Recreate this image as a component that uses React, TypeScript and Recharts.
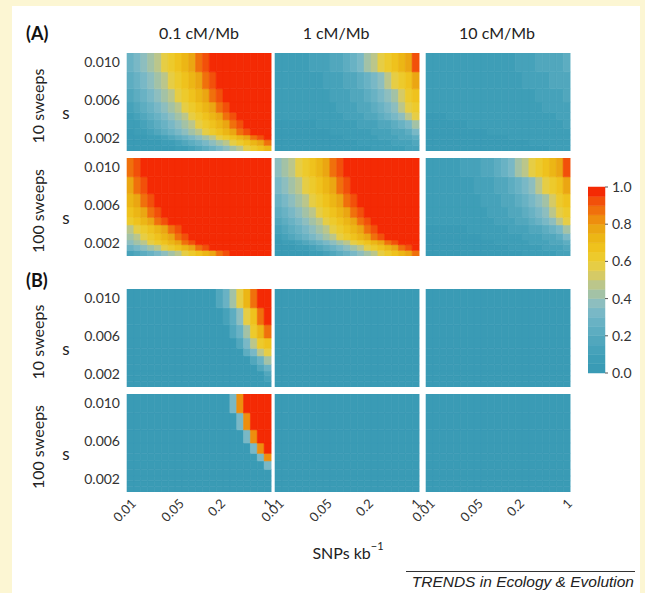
import React from 'react';
import { BarChart, Bar, XAxis, YAxis, Cell } from 'recharts';

// SNP density columns (log spaced, 10 per decade)
const snpLabels = ['0.01', '0.013', '0.016', '0.02', '0.025', '0.032', '0.04', '0.05', '0.063', '0.079', '0.1',
  '0.13', '0.16', '0.2', '0.25', '0.32', '0.4', '0.5', '0.63', '0.79', '1'];
const xTicks = ['0.01', '0.02', '0.05', '0.1', '0.2', '0.5', '1'];
const xLabelled = ['0.01', '0.05', '0.2', '1'];

// s row edges, top to bottom
const sEdges = [0.011, 0.009, 0.0072, 0.0058, 0.0047, 0.0039, 0.003, 0.0023, 0.0018, 0.0012, 0.0006];
const sTicks = [0.002, 0.006, 0.01];
const rowKeys = ['r0', 'r1', 'r2', 'r3', 'r4', 'r5', 'r6', 'r7', 'r8', 'r9'];

// colour bands 0.00..1.00 in steps of 0.05
const palette = ['#3a9bb5', '#3e9eb7', '#46a2ba', '#51a7bd', '#5dadc1', '#69b2c4', '#79b8c6', '#8dbebf', '#a3c2a6', '#bbc68b',
  '#d5ca66', '#e6cd45', '#edca2c', '#efc21d', '#ecb615', '#eba612', '#ee8e0e', '#f0700c', '#f2500a', '#f42a04'];
const scaleTicks = [0, 0.2, 0.4, 0.6, 0.8, 1];

// panel grids: one string per s row (top first), one char per SNP column, value = colour band (base 36)
const a10Low = ['56789bcdefhijjjjjjjjj', '456789bcdefhijjjjjjjj', '3456789bcdefhijjjjjjj', '23456789bcdefhijjjjjj',
  '123456789bcdefhijjjjj', '1123456789bcdefhijjjj', '01123456789bcdefhijjj', '0001123456789bcdefhij',
  '000001123456789bcdefh', '00000001123456789bcde'];
const a10Mid = ['111112223345689bcdefi', '11111112223345679bcdf', '111111112223345678acd', '1111111112223345679bc',
  '11111111112223345679b', '000000111111222334568', '000000001111112223346', '000000000011111222334',
  '000000000000111112223', '000000000000001111122'];
const a10High = ['111111111111122233334', '111111111111112222333', '111111111111111122223', '111111111111111112222',
  '000111111111111111122', '000000111111111111112', '000000000111111111111', '000000000000111111111',
  '000000000000000111111', '000000000000000000111'];
const a100Low = ['hijjjjjjjjjjjjjjjjjjj', 'fhijjjjjjjjjjjjjjjjjj', 'efhijjjjjjjjjjjjjjjjj', 'defhijjjjjjjjjjjjjjjj',
  'cdefhijjjjjjjjjjjjjjj', '9bcdefhijjjjjjjjjjjjj', '89bcdefhijjjjjjjjjjjj', '789bcdefhijjjjjjjjjjj',
  '56789bcdefhijjjjjjjjj', '23456789bcdefhijjjjjj'];
const a100Mid = ['789bcdefhijjjjjjjjjjj', '6789bcdefhijjjjjjjjjj', '56789bcdefhijjjjjjjjj', '456789bcdefhijjjjjjjj',
  '3456789bcdefhijjjjjjj', '23456789bcdefhijjjjjj', '123456789bcdefhijjjjj', '01123456789bcdefhijjj',
  '0001123456789bcdefhij', '000001123456789bcdefh'];
const a100High = ['111112223345689bcdefi', '11111112223345679bcdf', '111111112223345678acd', '1111111112223345679bc',
  '11111111112223345679b', '000000111111222334568', '000000001111112223346', '000000000011111222334',
  '000000000000111112223', '000000000000001111122'];
const b10Low = ['0000000000000358behjj', '00000000000000247bdhj', '000000000000000358ceh', '0000000000000000369cd',
  '00000000000000000469b', '000000000000000000358', '000000000000000000035', '000000000000000000003',
  '000000000000000000002', '000000000000000000000'];
const b10Mid = Array(10).fill('000000000000000000000');
const b10High = Array(10).fill('000000000000000000000');
const b100Low = ['0000000000000006gjjjj', '00000000000000006gjjj', '000000000000000006gjj', '0000000000000000006gj',
  '00000000000000000006g', '000000000000000000006', '000000000000000000000', '000000000000000000000',
  '000000000000000000000', '000000000000000000000'];
const b100Mid = Array(10).fill('000000000000000000000');
const b100High = Array(10).fill('000000000000000000000');

const FONT = 'Lato, "Open Sans", sans-serif';
const PW = 144;
const PH = 98;
const ML = 24;
const MR = 8;
const colX = [127, 275, 426];
const rowY = [53, 158, 289, 394];

const panelRows = [
  [a10Low, a10Mid, a10High],
  [a100Low, a100Mid, a100High],
  [b10Low, b10Mid, b10High],
  [b100Low, b100Mid, b100High],
];

const Panel = ({ grid, left, top, showY, showX }: { grid: string[]; left: number; top: number; showY: boolean; showX: boolean }) => {
  const yW = showY ? 60 : 0;
  const xH = showX ? 50 : 0;
  const data = snpLabels.map((x) => {
    const d: Record<string, number | string> = { x, base: sEdges[sEdges.length - 1] };
    rowKeys.forEach((k, r) => { d[k] = sEdges[r] - sEdges[r + 1]; });
    return d;
  });
  return (
    <div style={{ position: 'absolute', left: left - yW - ML, top }}>
      <BarChart width={PW + yW + ML + MR} height={PH + xH} data={data} margin={{ top: 0, right: MR, bottom: 0, left: ML }}
        barCategoryGap={0} barGap={0}>
        <XAxis dataKey="x" hide={!showX} height={xH} ticks={xTicks} interval={0}
          tickFormatter={(v: string) => (xLabelled.includes(v) ? v : '')}
          angle={-45} textAnchor="end" tickSize={0} tickMargin={6} axisLine={false} tickLine={false}
          tick={{ fontSize: 13, fill: '#333', fontFamily: FONT }} />
        <YAxis type="number" domain={[sEdges[sEdges.length - 1], sEdges[0]]} allowDataOverflow hide={!showY}
          width={yW} ticks={sTicks} tickFormatter={(v: number) => v.toFixed(3)} tickSize={0} tickMargin={7}
          axisLine={false} tickLine={false} tick={{ fontSize: 14, fill: '#333', fontFamily: FONT }} />
        <Bar dataKey="base" stackId="s" fill="transparent" isAnimationActive={false} />
        {rowKeys.slice().reverse().map((k) => {
          const r = rowKeys.indexOf(k);
          return (
            <Bar key={k} dataKey={k} stackId="s" isAnimationActive={false}>
              {grid[r].split('').map((ch, c) => {
                const fill = palette[parseInt(ch, 36)];
                return <Cell key={c} fill={fill} stroke={fill} strokeWidth={0.6} />;
              })}
            </Bar>
          );
        })}
      </BarChart>
    </div>
  );
};

const ColorBar = () => {
  const d: Record<string, number | string> = { k: 'scale' };
  palette.forEach((_, i) => { d['b' + i] = 0.05; });
  return (
    <div style={{ position: 'absolute', left: 588, top: 187 - 10 }}>
      <BarChart width={17 + 45} height={186 + 20} data={[d]} margin={{ top: 10, right: 0, bottom: 10, left: 0 }} barCategoryGap={0}>
        <XAxis dataKey="k" hide />
        <YAxis type="number" orientation="right" domain={[0, 1]} ticks={scaleTicks} width={45} interval={0}
          tickFormatter={(v: number) => v.toFixed(1)} axisLine={false} tickSize={3} tickMargin={4}
          tickLine={{ stroke: '#555' }} tick={{ fontSize: 14, fill: '#333', fontFamily: FONT }} />
        {palette.map((col, i) => (
          <Bar key={i} dataKey={'b' + i} stackId="c" fill={col} stroke={col} strokeWidth={0.5} isAnimationActive={false} />
        ))}
      </BarChart>
    </div>
  );
};

const rowLabels = ['10 sweeps', '100 sweeps', '10 sweeps', '100 sweeps'];
const colTitles = ['0.1 cM/Mb', '1 cM/Mb', '10 cM/Mb'];
const colTitleX = [199, 336, 497];

export default function App() {
  return (
    <div style={{ position: 'absolute', left: 0, top: 0, width: 645, height: 593, background: '#fcf6d3', overflow: 'hidden' }}>
      <div style={{ position: 'absolute', left: 12, top: 6, width: 628, height: 587, background: '#ffffff' }} />
      <svg width={645} height={593} style={{ position: 'absolute', left: 0, top: 0 }} fontFamily={FONT}>
        <text x={26} y={33} fontSize={18} fontWeight="bold" dominantBaseline="central" fill="#111">(A)</text>
        <text x={26} y={280} fontSize={18} fontWeight="bold" dominantBaseline="central" fill="#111">(B)</text>
        {colTitles.map((t, i) => (
          <text key={t} x={colTitleX[i]} y={32} fontSize={16} textAnchor="middle" dominantBaseline="central" fill="#222">{t}</text>
        ))}
        {rowLabels.map((t, i) => (
          <g key={i}>
            <text transform={`translate(37,${rowY[i] + PH / 2 + 4}) rotate(-90)`} fontSize={16} textAnchor="middle"
              dominantBaseline="central" fill="#222">{t}</text>
            <text x={66} y={rowY[i] + PH / 2 + 10} fontSize={17} textAnchor="middle" dominantBaseline="central" fill="#222">s</text>
          </g>
        ))}
        <text x={348} y={552} fontSize={16} textAnchor="middle" dominantBaseline="central" fill="#222">
          SNPs kb<tspan dy={-7} fontSize={11}>−1</tspan>
        </text>
        <line x1={406} x2={635} y1={571.5} y2={571.5} stroke="#333" strokeWidth={1} />
        <text x={634} y={587} fontSize={15.5} fontStyle="italic" textAnchor="end" fill="#222"
          fontFamily='"Liberation Sans", Arial, sans-serif'>TRENDS in Ecology &amp; Evolution</text>
      </svg>
      {panelRows.map((row, ri) =>
        row.map((grid, ci) => (
          <Panel key={`${ri}-${ci}`} grid={grid} left={colX[ci]} top={rowY[ri]} showY={ci === 0} showX={ri === 3} />
        ))
      )}
      <ColorBar />
    </div>
  );
}
